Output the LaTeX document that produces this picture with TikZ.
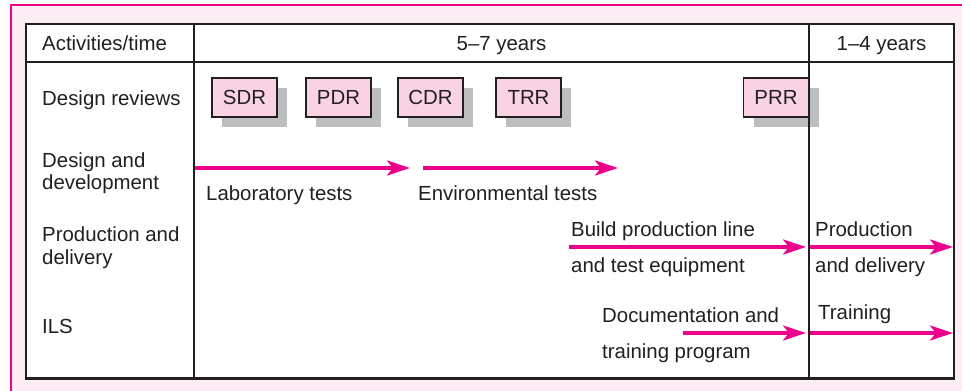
\documentclass[tikz,border=0pt]{standalone}
\usepackage{fontspec}
\setmainfont{Liberation Sans}
\usetikzlibrary{arrows.meta,shadows}
\definecolor{mag}{HTML}{EC008C}
\definecolor{bgpink}{HTML}{FDEDF4}
\definecolor{boxpink}{HTML}{F9D3E4}
\definecolor{shgray}{HTML}{BCBEC0}
\definecolor{ink}{HTML}{231F20}
\newcommand{\myfont}{\fontsize{20.4}{23}\selectfont}
\begin{document}
\begin{tikzpicture}[x=1pt,y=-1pt,
  lbl/.style={anchor=base west, inner sep=0pt, text=ink, font=\myfont},
  ctr/.style={anchor=base, inner sep=0pt, text=ink, font=\myfont},
  review/.style={draw=ink, line width=1.3pt, fill=boxpink, minimum width=65pt,
    minimum height=39pt, inner sep=0pt, text=ink, font=\myfont,
    general shadow={fill=shgray, shadow xshift=10pt, shadow yshift=-10pt}},
  flow/.style={draw=mag, line width=3.3pt, -{Stealth[length=23pt,width=15pt,inset=6pt]}},
  gridline/.style={draw=ink, line width=2.7pt}]
\useasboundingbox (0,0) rectangle (962,391);
% page frame
\fill[bgpink] (11,5) rectangle (962,391);
\draw[mag, line width=2.7pt] (11,391) -- (11,5) -- (962,5);
% table background
\fill[white] (26,24) rectangle (954,378.5);

% left column labels
\node[lbl] (hdr) at (42,50) {Activities/time};
\node[lbl] (dr) at (42,105) {Design reviews};
\node[lbl] (dd1) at (42,167) {Design and};
\node[lbl] (dd2) at (42,189) {development};
\node[lbl] (pd1) at (42,241) {Production and};
\node[lbl] (pd2) at (42,264) {delivery};
\node[lbl] (ils) at (42,333) {ILS};

% header
\node[ctr] (y57) at (501.5,50) {5–7 years};
\node[ctr] (y14) at (881.5,50) {1–4 years};

% design reviews
\node[review] (sdr) at (244.5,97.5) {SDR};
\node[review] (pdr) at (338.5,97.5) {PDR};
\node[review] (cdr) at (430.5,97.5) {CDR};
\node[review] (trr) at (528.5,97.5) {TRR};
\node[review] (prr) at (776,97.5) {PRR};

% design and development
\coordinate (lab0) at (194,168);
\coordinate (lab1) at (410,168);
\coordinate (env0) at (423,168);
\coordinate (env1) at (618,168);
\draw[flow] (lab0) -- (lab1);
\draw[flow] (env0) -- (env1);
\node[lbl] (labt) at (206,200) {Laboratory tests};
\node[lbl] (envt) at (418,200) {Environmental tests};

% production and delivery
\coordinate (bpl0) at (569,247);
\coordinate (bpl1) at (806,247);
\coordinate (pro0) at (809,247);
\coordinate (pro1) at (953,247);
\draw[flow] (bpl0) -- (bpl1);
\draw[flow] (pro0) -- (pro1);
\node[lbl] (bplt1) at (571,236) {Build production line};
\node[lbl] (bplt2) at (571,272) {and test equipment};
\node[lbl] (prot1) at (815,236) {Production};
\node[lbl] (prot2) at (815,272) {and delivery};

% ILS
\coordinate (doc0) at (683,333);
\coordinate (doc1) at (806,333);
\coordinate (trn0) at (809,333);
\coordinate (trn1) at (953,333);
\draw[flow] (doc0) -- (doc1);
\draw[flow] (trn0) -- (trn1);
\node[lbl] (doct1) at (602,322) {Documentation and};
\node[lbl] (doct2) at (602,358) {training program};
\node[lbl] (trnt) at (818,319) {Training};

% table lines
\draw[gridline] (26,24) rectangle (954,378.5);
\draw[gridline] (26,62) -- (954,62);
\draw[gridline] (194,24) -- (194,378.5);
\draw[gridline] (809,24) -- (809,378.5);
\end{tikzpicture}
\end{document}
